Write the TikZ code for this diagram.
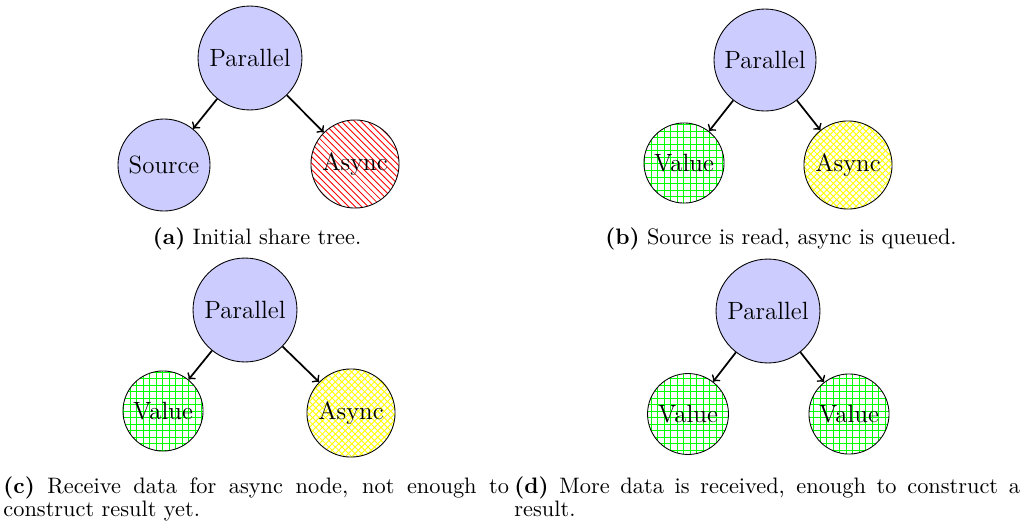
\documentclass[tikz,border=0pt]{standalone}
\usepackage{tikz}
\usetikzlibrary{patterns}
% caption type: no hyphenation, lines broken between words only
\newcommand\capsetup{\fontsize{10.3}{10.8}\selectfont\hyphenpenalty=10000\relax\exhyphenpenalty=10000\relax}
\tikzset{
  tn/.style={circle, draw=black, inner sep=0pt, font=\fontsize{11.5}{14}\selectfont},
  plain/.style={tn, fill=blue!20},
  queued/.style={tn, pattern=north west lines, pattern color=red},
  waiting/.style={tn, pattern=crosshatch, pattern color=yellow},
  done/.style={tn, pattern=grid, pattern color=green},
  edge/.style={->, thick},
  captext/.style={font=\capsetup, inner sep=0pt},
  capbox/.style={captext, text width=233pt, align=justify, anchor=north west}
}
\begin{document}
\begin{tikzpicture}[x=0.4608pt, y=-0.4608pt]
\useasboundingbox (0,0) rectangle (1022,522);

% (a) initial share tree
\node[plain, minimum size=47.9pt] (pa) at (250,58) {Parallel};
\node[plain, minimum size=42.4pt] (sa) at (164,165) {Source};
\node[queued, minimum size=40.6pt] (aa) at (355,164) {Async};
\draw[edge] (pa) -- (sa);
\draw[edge] (pa) -- (aa);
\node[captext, anchor=base] (capa) at (257,244) {\textbf{(a)} Initial share tree.};

% (b) source read, async queued
\node[plain, minimum size=47.0pt] (pb) at (765,60) {Parallel};
\node[done, minimum size=36.9pt] (vb) at (684,163) {Value};
\node[waiting, minimum size=40.6pt] (ab) at (848,165) {Async};
\draw[edge] (pb) -- (vb);
\draw[edge] (pb) -- (ab);
\node[captext, anchor=base] (capb) at (781,244) {\textbf{(b)} Source is read, async is queued.};

% (c) partial data received
\node[plain, minimum size=47.9pt] (pc) at (245,310) {Parallel};
\node[done, minimum size=36.9pt] (vc) at (163,411) {Value};
\node[waiting, minimum size=40.6pt] (ac) at (351,413) {Async};
\draw[edge] (pc) -- (vc);
\draw[edge] (pc) -- (ac);
\node[capbox] (capc) at (3,476) {\textbf{(c)} Receive data for async node, not enough to construct result yet.};

% (d) all data received
\node[plain, minimum size=47.9pt] (pd) at (768,311) {Parallel};
\node[done, minimum size=37.3pt] (vd1) at (688,414) {Value};
\node[done, minimum size=36.9pt] (vd2) at (849,414) {Value};
\draw[edge] (pd) -- (vd1);
\draw[edge] (pd) -- (vd2);
\node[capbox] (capd) at (514,476) {\textbf{(d)} More data is received, enough to construct a result.};
\end{tikzpicture}
\end{document}
